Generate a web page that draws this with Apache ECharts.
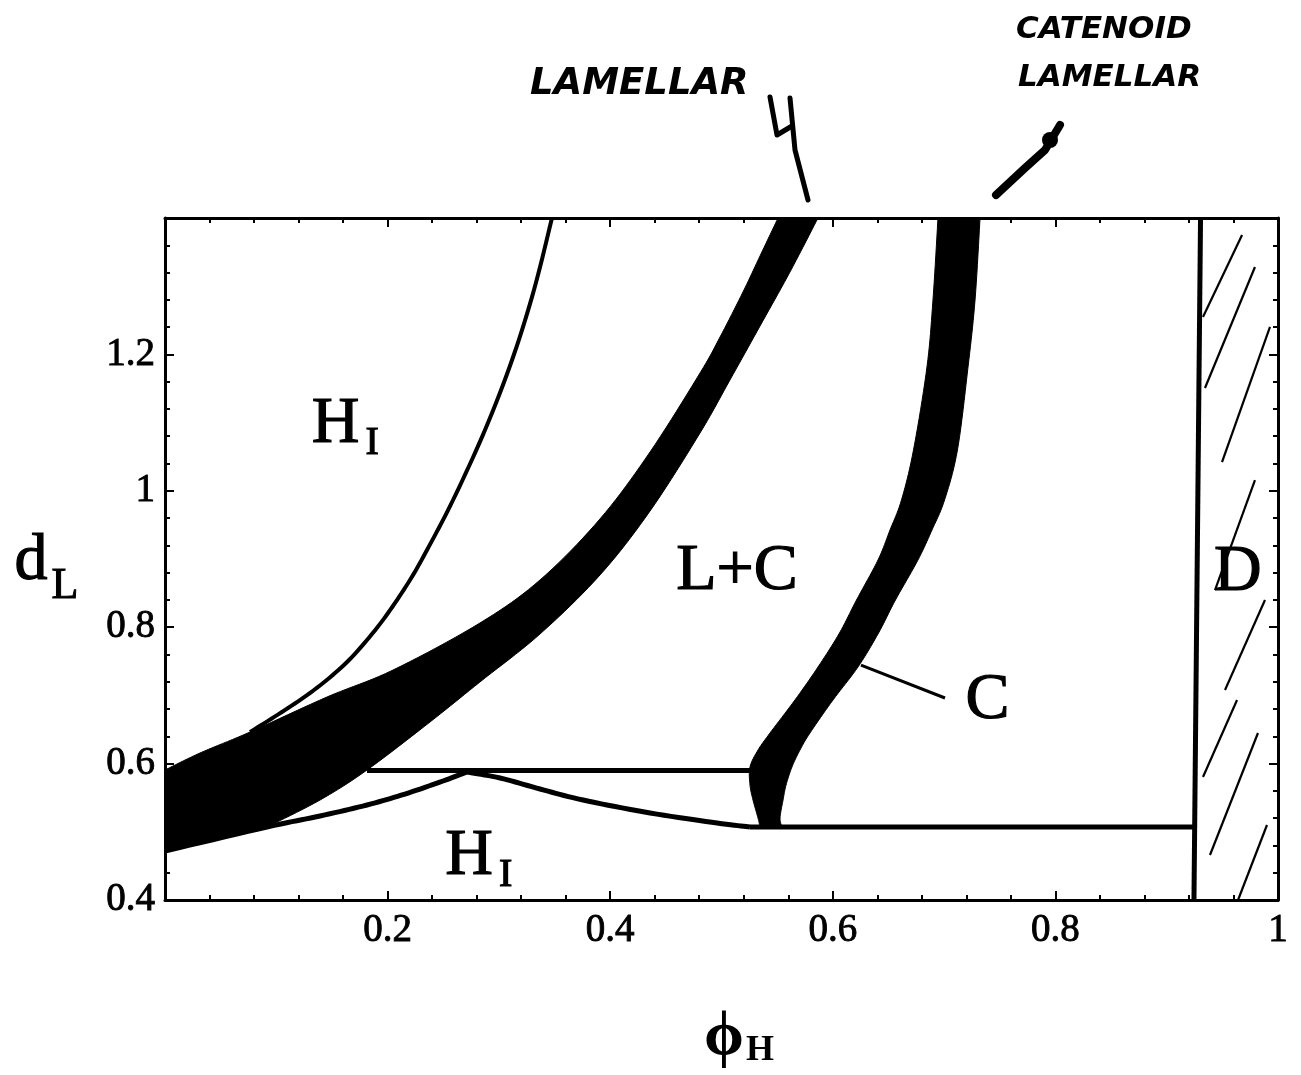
<!DOCTYPE html>
<html><head><meta charset="utf-8">
<script src="https://cdn.jsdelivr.net/npm/echarts@6/dist/echarts.min.js"></script>
<style>html,body{margin:0;padding:0;background:#fff}#c{width:1301px;height:1075px}</style>
</head><body><div id="c"></div>
<script>
// ---- axis ticks ----
const xTickValues = [0, 0.2, 0.4, 0.6, 0.8, 1];
const yTickValues = [0.4, 0.6, 0.8, 1.0, 1.2, 1.4];

// ---- phase boundaries (phi_H, d_L) ----
const hiBoundary = [[0.3477,1.4],[0.3315,1.2944],[0.3118,1.1918],[0.2875,1.0891],[0.2588,0.9865],[0.2354,0.9132],[0.2201,0.8692],[0.2004,0.8208],[0.1815,0.7812],[0.1608,0.7446],[0.1339,0.7079],[0.1051,0.6757],[0.0764,0.6463]];

const lamellarLowerCurve = [[0,0.4718],[0.0458,0.4894],[0.0916,0.5070]];
const lamellarLowerEdge = [[0.0916,0.5070],[0.1393,0.5466],[0.1815,0.5906],[0.2381,0.6610],[0.2830,0.7197],[0.3369,0.7900],[0.3908,0.8765],[0.4358,0.9704],[0.4807,1.0848],[0.5076,1.1625],[0.5346,1.2416],[0.5615,1.3208],[0.5867,1.4]];
const lamellarUpperEdge = [[0.5508,1.4],[0.5346,1.3443],[0.5193,1.2915],[0.4987,1.2255],[0.4807,1.1727],[0.4358,1.0569],[0.3908,0.9587],[0.3369,0.8692],[0.2830,0.8062],[0.2049,0.7372],[0.1456,0.6977],[0.0764,0.6463],[0.0314,0.6155],[0,0.5906]];

const lowerBoundaryLeft = [[0,0.4718],[0.0916,0.5070],[0.1393,0.5232],[0.1815,0.5393],[0.2156,0.5554],[0.2498,0.5745],[0.2713,0.5877]];
const lowerBoundaryRight = [[0.2713,0.5877],[0.3010,0.5789],[0.3369,0.5628],[0.3756,0.5466],[0.4358,0.5276],[0.4960,0.5129],[0.5256,0.5070]];
const lowerFlat = [[0.5256,0.5070],[0.9254,0.5070]];
const line059 = [[0.1815,0.59],[0.5270,0.59]];

const catenoidLeft = [[0.6945,1.4],[0.6900,1.2798],[0.6846,1.1815],[0.6725,1.0598],[0.6617,0.9865],[0.6514,0.9425],[0.6406,0.8985],[0.6213,0.8399],[0.6060,0.7915],[0.5867,0.7416],[0.5660,0.6933],[0.5436,0.6449],[0.5328,0.6199],[0.5256,0.5950],[0.5256,0.5686],[0.5283,0.5466],[0.5328,0.5202],[0.5346,0.5070]];
const catenoidRight = [[0.5544,0.5070],[0.5526,0.5202],[0.5553,0.5466],[0.5580,0.5686],[0.5633,0.5950],[0.5705,0.6199],[0.5795,0.6449],[0.6002,0.6933],[0.6226,0.7416],[0.6411,0.7915],[0.6563,0.8399],[0.6765,0.8985],[0.6891,0.9425],[0.7004,0.9865],[0.7120,1.0598],[0.7215,1.1815],[0.7278,1.2798],[0.7323,1.4]];

const cPointer = [[0.6253,0.7445],[0.7008,0.6962]];
const dBoundary = [[0.9304,1.4],[0.9245,0.4]];
const hatchStrokes = [
  [[0.9677,1.3751],[0.9326,1.2548]],
  [[0.9793,1.3282],[0.9344,1.1507]],
  [[0.9928,1.2402],[0.9497,1.0422]],
  [[0.9793,1.0158],[0.9434,0.8545]],
  [[0.9883,0.8399],[0.9524,0.7079]],
  [[0.9632,0.6933],[0.9326,0.5804]],
  [[0.9820,0.6449],[0.9389,0.4660]],
  [[0.9901,0.5100],[0.9641,0.4]]
];

// ---- region labels ----
const regionLabels = [
  {name:'{m|H}{s|I}', value:[0.162,1.097]},
  {name:'{p|L+C}', value:[0.514,0.881]},
  {name:'{m|H}{s|I}', value:[0.282,0.464]},
  {name:'{p|C}', value:[0.739,0.693]},
  {name:'{p|D}', value:[0.964,0.880]}
];

const SERIF = '"Liberation Serif","DejaVu Serif",serif';
const chart = echarts.init(document.getElementById('c'), null, {renderer:'canvas'});

// Catmull-Rom through pixel points (after mapping data through the axes)
function spline(px, seg) {
  seg = seg || 10;
  if (px.length < 3) return px.slice();
  const out = [px[0]];
  for (let i = 0; i < px.length - 1; i++) {
    const p0 = px[i-1] || px[i], p1 = px[i], p2 = px[i+1], p3 = px[i+2] || px[i+1];
    for (let k = 1; k <= seg; k++) {
      const t = k/seg, t2 = t*t, t3 = t2*t;
      const f = j => 0.5*(2*p1[j] + (-p0[j]+p2[j])*t + (2*p0[j]-5*p1[j]+4*p2[j]-p3[j])*t2 + (-p0[j]+3*p1[j]-3*p2[j]+p3[j])*t3);
      out.push([f(0), f(1)]);
    }
  }
  return out;
}

function polySeries(edges) {
  return {
    type:'custom', coordinateSystem:'cartesian2d', data:[[0.5,0.9]], silent:true, z:3, animation:false,
    renderItem:(params, api) => {
      let pts = [];
      edges.forEach(e => { pts = pts.concat(spline(e.map(p => api.coord(p)))); });
      return {type:'polygon', shape:{points:pts}, style:{fill:'#000', stroke:'#000', lineWidth:1}};
    }
  };
}
function curveSeries(data, w, smooth) {
  return {
    type:'custom', coordinateSystem:'cartesian2d', data:[[0.5,0.9]], silent:true, z:4, animation:false,
    renderItem:(params, api) => {
      const px = data.map(p => api.coord(p));
      return {type:'polyline', shape:{points: smooth ? spline(px) : px},
        style:{stroke:'#000', lineWidth:w, fill:null, lineJoin:'round', lineCap:'butt'}};
    }
  };
}

const fmt = v => {
  if (Math.abs(v) < 1e-9) return '';
  if (Math.abs(v - 1.4) < 1e-9) return '';
  return String(+v.toFixed(2));
};
const tickLabel = {color:'#000', fontFamily:SERIF, fontSize:39, textBorderColor:'#000', textBorderWidth:0.9};

function mkX(pos, showLabel) {
  return {type:'value', position:pos, min:0, max:1, interval:0.2,
    axisLine:{show:true, onZero:false, lineStyle:{color:'#000', width:3}},
    axisTick:{show:true, inside:true, length:9, lineStyle:{color:'#000', width:2}},
    minorTick:{show:true, splitNumber:5, length:5, lineStyle:{color:'#000', width:2}},
    splitLine:{show:false}, minorSplitLine:{show:false},
    axisLabel:Object.assign({show:showLabel, formatter:fmt, margin:11}, tickLabel)
  };
}
function mkY(pos, showLabel) {
  return {type:'value', position:pos, min:0.4, max:1.4, interval:0.2,
    axisLine:{show:true, onZero:false, lineStyle:{color:'#000', width:3}},
    axisTick:{show:true, inside:true, length:9, lineStyle:{color:'#000', width:2}},
    minorTick:{show:true, splitNumber:5, length:5, lineStyle:{color:'#000', width:2}},
    splitLine:{show:false}, minorSplitLine:{show:false},
    axisLabel:Object.assign({show:showLabel, formatter:fmt, margin:10}, tickLabel)
  };
}

const bigText = {fontFamily:SERIF, color:'#000', textBorderColor:'#000', textBorderWidth:1.2};

const option = {
  backgroundColor:'#fff',
  animation:false,
  grid:{left:165, right:23, top:218, bottom:175, containLabel:false, outerBoundsMode:'none'},
  xAxis:[mkX('bottom', true), mkX('top', false)],
  yAxis:[mkY('left', true), mkY('right', false)],
  series:[
    polySeries([lamellarLowerCurve, lamellarLowerEdge, lamellarUpperEdge]),
    polySeries([catenoidLeft, catenoidRight]),
    curveSeries(hiBoundary, 4, true),
    curveSeries(lowerBoundaryLeft, 5, true),
    curveSeries(lowerBoundaryRight, 5, true),
    curveSeries(lowerFlat, 5, false),
    curveSeries(line059, 5, false),
    curveSeries(cPointer, 3, false),
    curveSeries(dBoundary, 5, false),
    {type:'lines', coordinateSystem:'cartesian2d', silent:true, animation:false, z:4,
      lineStyle:{color:'#000', width:2.2, opacity:1},
      data: hatchStrokes.map(s => ({coords:s}))},
    {type:'scatter', symbolSize:0, silent:true, animation:false, z:6,
      itemStyle:{opacity:1}, emphasis:{disabled:true},
      data: regionLabels,
      label:{show:true, position:'inside', opacity:1, formatter: p => p.name, color:'#000',
        rich:{
          m:Object.assign({fontSize:66, lineHeight:66, verticalAlign:'top'}, bigText),
          s:Object.assign({fontSize:40, lineHeight:40, verticalAlign:'top', padding:[32,0,0,6]}, bigText),
          p:Object.assign({fontSize:66}, bigText)
        }}}
  ],
  graphic:[
    {type:'text', left:14, top:528, silent:true, style:{text:'{a|d}{b|L}', rich:{
      a:{fontFamily:SERIF, fontSize:66, fill:'#000', stroke:'#000', lineWidth:1.2, verticalAlign:'bottom', padding:[0,0,14,0]},
      b:{fontFamily:SERIF, fontSize:44, fill:'#000', stroke:'#000', lineWidth:1, verticalAlign:'bottom', padding:[0,0,0,4]}}}},
    {type:'text', left:704, top:1005, silent:true, style:{text:'{a|ϕ}{b|H}', rich:{
      a:{fontFamily:SERIF, fontSize:64, fontWeight:'bold', fill:'#000', verticalAlign:'bottom'},
      b:{fontFamily:SERIF, fontSize:36, fontWeight:'bold', fill:'#000', verticalAlign:'bottom', padding:[0,0,0,2]}}}},
    {type:'text', left:530, top:66, silent:true, style:{text:'LAMELLAR', font:'bold italic 37px "DejaVu Sans"', fill:'#000'}},
    {type:'text', left:1016, top:14, silent:true, style:{text:'CATENOID', font:'bold italic 31px "DejaVu Sans"', fill:'#000'}},
    {type:'text', left:1018, top:62, silent:true, style:{text:'LAMELLAR', font:'bold italic 31px "DejaVu Sans"', fill:'#000'}},
    {type:'polyline', silent:true, shape:{points:[[770,97],[777,135],[792,126]]}, style:{stroke:'#000', lineWidth:5, fill:null, lineCap:'round', lineJoin:'round'}},
    {type:'polyline', silent:true, shape:{points:[[790,98],[795,150],[808,200]]}, style:{stroke:'#000', lineWidth:5, fill:null, lineCap:'round', lineJoin:'round'}},
    {type:'polyline', silent:true, shape:{points:[[996,195],[1025,168],[1045,150],[1060,125]]}, style:{stroke:'#000', lineWidth:8, fill:null, lineCap:'round', lineJoin:'round'}},
    {type:'circle', silent:true, shape:{cx:1050, cy:140, r:8}, style:{fill:'#000'}}
  ]
};
chart.setOption(option);
</script>
</body></html>
